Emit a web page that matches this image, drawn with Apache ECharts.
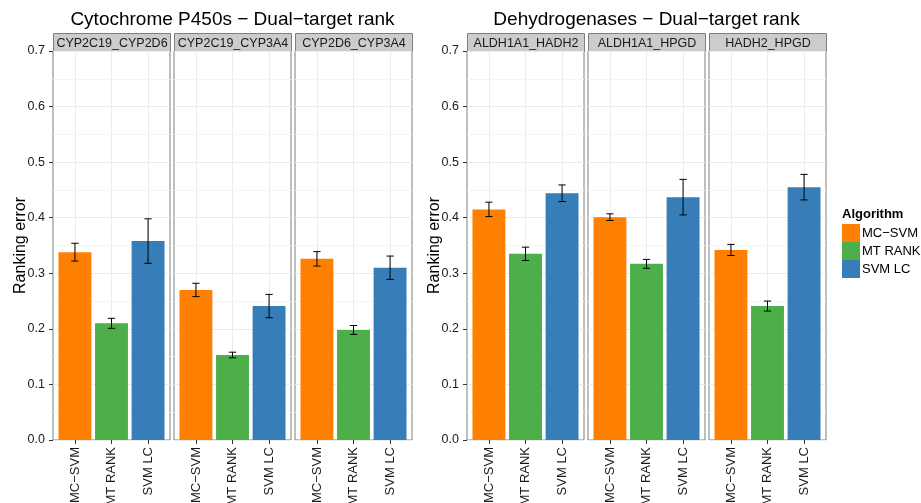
<!DOCTYPE html>
<html>
<head>
<meta charset="utf-8">
<script src="https://cdn.jsdelivr.net/npm/echarts@6/dist/echarts.min.js"></script>
<style>
  html, body { margin: 0; padding: 0; background: #ffffff; }
  #chart { width: 921px; height: 503px; }
</style>
</head>
<body>
<div id="chart"></div>
<script>
// Algorithms compared in every panel
const algorithms = ['MC\u2212SVM', 'MT RANK', 'SVM LC'];
const algoColors = ['#ff7f00', '#4daf4a', '#377eb8'];

// Cytochrome P450 target pairs
const cypPairs = ['CYP2C19_CYP2D6', 'CYP2C19_CYP3A4', 'CYP2D6_CYP3A4'];
// mean ranking error per pair, in algorithm order
const cypError = [
  [0.338, 0.210, 0.358],
  [0.270, 0.153, 0.241],
  [0.326, 0.198, 0.310]
];
// half-width of the error bars
const cypSpread = [
  [0.016, 0.009, 0.040],
  [0.012, 0.005, 0.021],
  [0.013, 0.008, 0.021]
];

// Dehydrogenase target pairs
const dhPairs = ['ALDH1A1_HADH2', 'ALDH1A1_HPGD', 'HADH2_HPGD'];
const dhError = [
  [0.415, 0.335, 0.444],
  [0.401, 0.317, 0.437],
  [0.342, 0.241, 0.455]
];
const dhSpread = [
  [0.013, 0.012, 0.015],
  [0.006, 0.008, 0.032],
  [0.010, 0.009, 0.023]
];

const panelTitles = ['Cytochrome P450s \u2212 Dual\u2212target rank', 'Dehydrogenases \u2212 Dual\u2212target rank'];

// ---- layout ----
const FONT = '"Liberation Sans", Arial, Helvetica, sans-serif';
const panelLefts = [53, 174, 295, 467, 588, 709];
const panelW = 117;
const panelTop = 51;
const panelH = 389;
const stripH = 18;

const pairs = cypPairs.concat(dhPairs);
const errors = cypError.concat(dhError);
const spreads = cypSpread.concat(dhSpread);

const grids = [], xAxes = [], yAxes = [], series = [], graphics = [];

panelLefts.forEach(function (left, g) {
  const firstOfBlock = (g % 3 === 0);
  grids.push({
    left: left, top: panelTop, width: panelW, height: panelH,
    show: true, borderColor: '#7f7f7f', borderWidth: 1, backgroundColor: '#ffffff',
    containLabel: false, outerBoundsMode: 'none'
  });
  xAxes.push({
    type: 'value', gridIndex: g, min: -0.6, max: 2.6,
    axisLine: { show: false, onZero: false },
    axisTick: { show: true, customValues: [0, 1, 2], length: 4, lineStyle: { color: '#333333' } },
    axisLabel: {
      customValues: [0, 1, 2], rotate: 90, margin: 7,
      fontFamily: FONT, fontSize: 13, color: '#1a1a1a',
      formatter: function (v) { return algorithms[Math.round(v)]; }
    },
    splitLine: { show: true, lineStyle: { color: '#ebebeb', width: 1 } }
  });
  yAxes.push({
    type: 'value', gridIndex: g, min: 0, max: 0.7, interval: 0.1,
    axisLine: { show: false, onZero: false },
    axisTick: { show: firstOfBlock, length: 4, lineStyle: { color: '#333333' } },
    axisLabel: {
      show: firstOfBlock, margin: 8, fontFamily: FONT, fontSize: 12.5, color: '#1a1a1a',
      padding: [2, 0, 0, 0],
      formatter: function (v) { return v.toFixed(1); }
    },
    splitLine: { show: true, lineStyle: { color: '#ebebeb', width: 1 } },
    minorTick: { show: false, splitNumber: 2 },
    minorSplitLine: { show: true, lineStyle: { color: '#f5f5f5', width: 1 } },
    name: firstOfBlock ? 'Ranking error' : '',
    nameLocation: 'middle', nameRotate: 90, nameGap: 24, nameMoveOverlap: false,
    nameTextStyle: { fontFamily: FONT, fontSize: 16, color: '#000000' }
  });

  // one series per algorithm so the legend can list them
  algorithms.forEach(function (name, a) {
    series.push({
      type: 'custom', name: name, xAxisIndex: g, yAxisIndex: g,
      itemStyle: { color: algoColors[a] },
      data: [[a, errors[g][a], spreads[g][a]]],
      encode: { x: 0, y: 1 },
      renderItem: function (params, api) {
        const x = api.value(0), v = api.value(1), e = api.value(2);
        const p0 = api.coord([x - 0.45, v]);
        const p1 = api.coord([x + 0.45, 0]);
        const top = api.coord([x, v + e]);
        const bot = api.coord([x, v - e]);
        const capL = api.coord([x - 0.1, 0])[0];
        const capR = api.coord([x + 0.1, 0])[0];
        const lineStyle = { stroke: '#000000', lineWidth: 1 };
        return {
          type: 'group',
          children: [
            { type: 'rect', shape: { x: p0[0], y: p0[1], width: p1[0] - p0[0], height: p1[1] - p0[1] },
              style: { fill: algoColors[a] } },
            { type: 'line', shape: { x1: top[0], y1: top[1], x2: bot[0], y2: bot[1] }, style: lineStyle },
            { type: 'line', shape: { x1: capL, y1: top[1], x2: capR, y2: top[1] }, style: lineStyle },
            { type: 'line', shape: { x1: capL, y1: bot[1], x2: capR, y2: bot[1] }, style: lineStyle }
          ]
        };
      }
    });
  });

  // facet strip
  graphics.push({
    type: 'group', left: left, top: panelTop - stripH,
    children: [
      { type: 'rect', shape: { x: 0, y: 0, width: panelW, height: stripH },
        style: { fill: '#cccccc', stroke: '#7f7f7f', lineWidth: 1 } },
      { type: 'text', x: panelW / 2, y: stripH / 2 + 1,
        style: { text: pairs[g], fontFamily: FONT, fontSize: 12.5, fill: '#1a1a1a', align: 'center', verticalAlign: 'middle' } }
    ]
  });
});

// legend heading
graphics.push({
  type: 'text', left: 842, top: 208,
  style: { text: 'Algorithm', fontFamily: FONT, fontSize: 13, fontWeight: 'bold', fill: '#000000' }
});

const blockCenters = [
  panelLefts[0] + (panelLefts[2] + panelW - panelLefts[0]) / 2,
  panelLefts[3] + (panelLefts[5] + panelW - panelLefts[3]) / 2
];

const chart = echarts.init(document.getElementById('chart'), null, { renderer: 'canvas' });
chart.setOption({
  animation: false,
  backgroundColor: '#ffffff',
  title: panelTitles.map(function (t, i) {
    return {
      text: t, left: blockCenters[i], top: 10, textAlign: 'center', padding: 0,
      textStyle: { fontFamily: FONT, fontSize: 19, fontWeight: 'normal', color: '#000000' }
    };
  }),
  legend: {
    data: algorithms, orient: 'vertical', left: 842, top: 224, padding: 0,
    icon: 'rect', itemWidth: 18, itemHeight: 18, itemGap: 0,
    selectedMode: false,
    textStyle: { fontFamily: FONT, fontSize: 13, color: '#000000', padding: [0, 0, 0, -3] }
  },
  grid: grids,
  xAxis: xAxes,
  yAxis: yAxes,
  series: series,
  graphic: graphics
});
</script>
</body>
</html>
